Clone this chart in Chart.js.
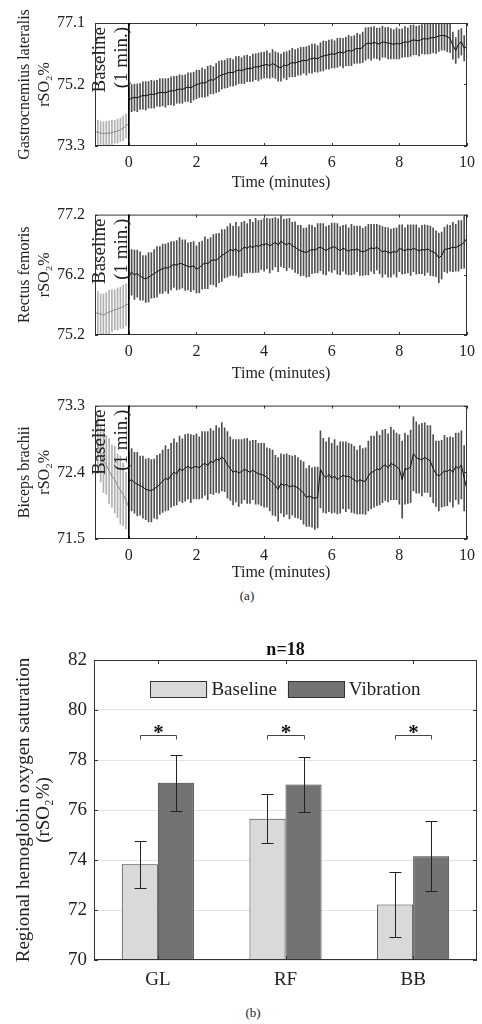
<!DOCTYPE html>
<html>
<head>
<meta charset="utf-8">
<script src="https://cdn.jsdelivr.net/npm/chart.js@4.4.1/dist/chart.umd.min.js"></script>
<style>
  body { margin: 0; background: #fff; width: 482px; height: 1024px; position: relative; overflow: hidden; font-family: "Liberation Serif", serif; }
  canvas { position: absolute; left: 0; }
  .cap { position: absolute; font-size: 13px; line-height: 16px; color: #222; transform: translateX(-50%); }
</style>
</head>
<body>
<canvas id="glChart"></canvas>
<canvas id="rfChart"></canvas>
<canvas id="bbChart"></canvas>
<canvas id="barChart"></canvas>
<div class="cap" style="left:247px; top:588px;">(a)</div>
<div class="cap" style="left:253px; top:1005px;">(b)</div>
<script>
// ===== Time series data (one sample every 5 s) =====
const stepMin = 5 / 60;
const timeTicks = [0, 2, 4, 6, 8, 10];

// Gastrocnemius lateralis
const glTicks = [73.3, 75.2, 77.1];
const glBaseMean = [73.75, 73.72, 73.70, 73.68, 73.70, 73.69, 73.72, 73.74, 73.76, 73.80, 73.85, 73.92, 74.00];
const glBaseErr = [0.36, 0.38, 0.35, 0.37, 0.36, 0.38, 0.37, 0.35, 0.37, 0.36, 0.38, 0.37, 0.36];
const glMean = [
  74.72, 74.78, 74.80, 74.79, 74.83, 74.86, 74.85, 74.88, 74.90, 74.89, 74.93, 74.95,
  74.96, 74.94, 74.98, 75.01, 75.00, 75.04, 75.06, 75.05, 75.09, 75.12, 75.10, 75.15,
  75.20, 75.22, 75.26, 75.24, 75.30, 75.35, 75.33, 75.40, 75.45, 75.50, 75.52, 75.55,
  75.58, 75.56, 75.62, 75.65, 75.63, 75.66, 75.70, 75.68, 75.72, 75.75, 75.74, 75.78,
  75.80, 75.82, 75.78, 75.85, 75.80, 75.74, 75.72, 75.80, 75.78, 75.84, 75.88, 75.86,
  75.90, 75.92, 75.95, 75.93, 75.98, 76.00, 76.02, 75.99, 76.05, 76.08, 76.10, 76.12,
  76.15, 76.13, 76.18, 76.20, 76.17, 76.22, 76.25, 76.23, 76.28, 76.32, 76.30, 76.35,
  76.45, 76.48, 76.46, 76.50, 76.47, 76.45, 76.52, 76.50, 76.48, 76.46, 76.44, 76.47,
  76.45, 76.48, 76.52, 76.50, 76.55, 76.58, 76.56, 76.55, 76.60, 76.62, 76.60, 76.64,
  76.65, 76.66, 76.70, 76.72, 76.71, 76.68, 76.62, 76.40, 76.25, 76.45, 76.52, 76.32,
  76.38
];
const glErr = [
  0.40, 0.42, 0.41, 0.43, 0.40, 0.42, 0.44, 0.41, 0.43, 0.42, 0.40, 0.43,
  0.42, 0.44, 0.41, 0.43, 0.45, 0.42, 0.44, 0.43, 0.41, 0.44, 0.46, 0.43,
  0.44, 0.42, 0.45, 0.43, 0.46, 0.44, 0.42, 0.45, 0.47, 0.44, 0.43, 0.45,
  0.43, 0.41, 0.44, 0.42, 0.40, 0.43, 0.41, 0.39, 0.42, 0.40, 0.43, 0.41,
  0.40, 0.42, 0.39, 0.43, 0.41, 0.44, 0.42, 0.40, 0.43, 0.41, 0.44, 0.42,
  0.41, 0.43, 0.40, 0.44, 0.42, 0.45, 0.43, 0.41, 0.44, 0.46, 0.43, 0.45,
  0.44, 0.42, 0.45, 0.43, 0.46, 0.44, 0.47, 0.45, 0.43, 0.46, 0.44, 0.47,
  0.50, 0.48, 0.51, 0.49, 0.47, 0.50, 0.48, 0.46, 0.49, 0.47, 0.45, 0.48,
  0.46, 0.44, 0.47, 0.45, 0.48, 0.46, 0.44, 0.47, 0.45, 0.48, 0.46, 0.49,
  0.47, 0.50, 0.48, 0.46, 0.45, 0.47, 0.44, 0.42, 0.40, 0.43, 0.41, 0.39,
  0.40
];

// Rectus femoris
const rfTicks = [75.2, 76.2, 77.2];
const rfBaseMean = [75.57, 75.56, 75.55, 75.53, 75.56, 75.58, 75.60, 75.62, 75.63, 75.65, 75.67, 75.70, 75.72];
const rfBaseErr = [0.34, 0.36, 0.33, 0.35, 0.34, 0.36, 0.35, 0.33, 0.35, 0.34, 0.36, 0.35, 0.34];
const rfMean = [
  76.21, 76.24, 76.20, 76.22, 76.18, 76.15, 76.13, 76.16, 76.19, 76.22, 76.25, 76.28,
  76.30, 76.32, 76.31, 76.35, 76.37, 76.36, 76.39, 76.38, 76.36, 76.34, 76.33, 76.35,
  76.29, 76.32, 76.36, 76.40, 76.38, 76.43, 76.45, 76.44, 76.48, 76.52, 76.55, 76.58,
  76.62, 76.60, 76.63, 76.58, 76.62, 76.66, 76.64, 76.68, 76.65, 76.69, 76.67, 76.70,
  76.70, 76.72, 76.68, 76.71, 76.74, 76.69, 76.76, 76.72, 76.70, 76.73, 76.68, 76.66,
  76.62, 76.60, 76.58, 76.57, 76.60, 76.62, 76.61, 76.64, 76.66, 76.63, 76.60, 76.64,
  76.65, 76.67, 76.63, 76.60, 76.64, 76.62, 76.59, 76.62, 76.61, 76.63, 76.60, 76.58,
  76.60, 76.62, 76.65, 76.63, 76.66, 76.62, 76.58, 76.60, 76.57, 76.56, 76.59, 76.57,
  76.64, 76.62, 76.60, 76.63, 76.61, 76.64, 76.62, 76.60, 76.62, 76.61, 76.63, 76.60,
  76.58, 76.55, 76.48, 76.52, 76.62, 76.63, 76.64, 76.66, 76.65, 76.68, 76.70, 76.74,
  76.81
];
const rfErr = [
  0.40, 0.38, 0.41, 0.39, 0.40, 0.37, 0.39, 0.41, 0.38, 0.40, 0.42, 0.39,
  0.41, 0.39, 0.42, 0.40, 0.38, 0.41, 0.43, 0.40, 0.42, 0.39, 0.41, 0.40,
  0.39, 0.42, 0.40, 0.43, 0.41, 0.39, 0.42, 0.44, 0.41, 0.43, 0.40, 0.42,
  0.43, 0.41, 0.44, 0.42, 0.45, 0.43, 0.41, 0.44, 0.42, 0.45, 0.43, 0.41,
  0.44, 0.42, 0.45, 0.43, 0.41, 0.44, 0.42, 0.40, 0.43, 0.41, 0.39, 0.42,
  0.40, 0.42, 0.39, 0.41, 0.43, 0.40, 0.38, 0.41, 0.39, 0.42, 0.40, 0.38,
  0.41, 0.39, 0.42, 0.40, 0.38, 0.41, 0.39, 0.42, 0.40, 0.38, 0.41, 0.39,
  0.40, 0.42, 0.39, 0.41, 0.38, 0.40, 0.42, 0.39, 0.41, 0.40, 0.38, 0.41,
  0.39, 0.41, 0.38, 0.40, 0.42, 0.39, 0.41, 0.38, 0.40, 0.42, 0.39, 0.41,
  0.40, 0.38, 0.41, 0.39, 0.37, 0.40, 0.38, 0.41, 0.39, 0.42, 0.40, 0.43,
  0.41
];

// Biceps brachii
const bbTicks = [71.5, 72.4, 73.3];
const bbBaseMean = [72.88, 72.78, 72.65, 72.55, 72.50, 72.42, 72.35, 72.30, 72.22, 72.16, 72.10, 72.02, 71.93];
const bbBaseErr = [0.34, 0.40, 0.38, 0.42, 0.40, 0.44, 0.42, 0.45, 0.43, 0.46, 0.42, 0.38, 0.34];
const bbMean = [
  72.28, 72.30, 72.26, 72.24, 72.22, 72.20, 72.17, 72.16, 72.15, 72.18, 72.20, 72.24,
  72.28, 72.32, 72.30, 72.36, 72.40, 72.38, 72.45, 72.42, 72.46, 72.48, 72.45, 72.47,
  72.48, 72.46, 72.50, 72.52, 72.49, 72.55, 72.53, 72.58, 72.56, 72.61, 72.57, 72.50,
  72.45, 72.40, 72.42, 72.39, 72.41, 72.44, 72.42, 72.40, 72.43, 72.40, 72.38, 72.37,
  72.36, 72.33, 72.30, 72.26, 72.22, 72.17, 72.25, 72.22, 72.24, 72.20, 72.22, 72.21,
  72.19, 72.16, 72.12, 72.06, 72.08, 72.06, 72.05, 72.06, 72.44, 72.36, 72.33, 72.37,
  72.32, 72.35, 72.30, 72.33, 72.36, 72.34, 72.35, 72.32, 72.30, 72.27, 72.30, 72.28,
  72.28, 72.35, 72.40, 72.41, 72.45, 72.43, 72.48, 72.50, 72.46, 72.52, 72.50, 72.48,
  72.44, 72.30, 72.45, 72.44, 72.48, 72.65, 72.60, 72.58, 72.57, 72.60, 72.58, 72.55,
  72.45, 72.38, 72.35, 72.38, 72.42, 72.41, 72.44, 72.40, 72.48, 72.45, 72.50, 72.32,
  72.17
];
const bbErr = [
  0.40, 0.42, 0.41, 0.43, 0.40, 0.42, 0.41, 0.43, 0.42, 0.40, 0.43, 0.41,
  0.42, 0.44, 0.41, 0.43, 0.45, 0.42, 0.44, 0.43, 0.45, 0.44, 0.46, 0.43,
  0.44, 0.42, 0.45, 0.43, 0.46, 0.44, 0.43, 0.45, 0.44, 0.46, 0.43, 0.45,
  0.43, 0.44, 0.42, 0.45, 0.43, 0.41, 0.44, 0.42, 0.40, 0.43, 0.41, 0.42,
  0.43, 0.40, 0.42, 0.44, 0.41, 0.43, 0.40, 0.42, 0.41, 0.43, 0.40, 0.42,
  0.41, 0.40, 0.42, 0.39, 0.41, 0.40, 0.42, 0.41, 0.52, 0.50, 0.48, 0.50,
  0.47, 0.49, 0.46, 0.48, 0.45, 0.47, 0.44, 0.46, 0.45, 0.43, 0.46, 0.44,
  0.45, 0.47, 0.49, 0.48, 0.50, 0.47, 0.49, 0.48, 0.46, 0.49, 0.47, 0.45,
  0.47, 0.52, 0.48, 0.46, 0.49, 0.50, 0.48, 0.46, 0.49, 0.47, 0.45, 0.48,
  0.46, 0.44, 0.47, 0.45, 0.48, 0.46, 0.44, 0.47, 0.45, 0.48, 0.46, 0.44,
  0.44
];

// ===== Bar chart data =====
const barCategories = ["GL", "RF", "BB"];
const baselineMeans = [73.83, 75.65, 72.22];
const baselineErr = [0.93, 0.98, 1.28];
const vibrationMeans = [77.09, 77.02, 74.15];
const vibrationErr = [1.13, 1.10, 1.40];
const sigLevel = 79.0;

Chart.defaults.font.family = '"Liberation Serif", serif';
Chart.defaults.color = "#222";

function toPoints(values, start) {
  return values.map((v, i) => ({ x: start + i * stepMin, y: v }));
}
function toBars(values, errs, start) {
  return values.map((v, i) => ({ x: start + i * stepMin, y: [v - errs[i], v + errs[i]] }));
}

// box, inward ticks, start marker and "Baseline" text
const panelDeco = {
  id: "panelDeco",
  afterDatasetsDraw(chart) {
    const { ctx, chartArea: a, scales: { x, y } } = chart;
    ctx.save();
    ctx.strokeStyle = "#333";
    ctx.lineWidth = 1;
    ctx.strokeRect(a.left + 0.5, a.top + 0.5, a.width - 1, a.height - 1);
    ctx.beginPath();
    x.ticks.forEach(t => {
      const px = Math.round(x.getPixelForValue(t.value)) + 0.5;
      ctx.moveTo(px, a.bottom); ctx.lineTo(px, a.bottom - 3);
      ctx.moveTo(px, a.top); ctx.lineTo(px, a.top + 3);
    });
    y.ticks.forEach(t => {
      const py = Math.round(y.getPixelForValue(t.value)) + 0.5;
      ctx.moveTo(a.left, py); ctx.lineTo(a.left + 3, py);
      ctx.moveTo(a.right, py); ctx.lineTo(a.right - 3, py);
    });
    ctx.stroke();

    const x0 = x.getPixelForValue(0);
    ctx.strokeStyle = "#000";
    ctx.lineWidth = 1.6;
    ctx.beginPath();
    ctx.moveTo(x0, a.top); ctx.lineTo(x0, a.bottom);
    ctx.stroke();

    ctx.translate(x.getPixelForValue(-0.5), a.top + 4);
    ctx.rotate(-Math.PI / 2);
    ctx.font = '19px "Liberation Serif"';
    ctx.fillStyle = "#222";
    ctx.textAlign = "right";
    ctx.textBaseline = "middle";
    ctx.fillText("Baseline", 0, -12);
    ctx.fillText("(1 min.)", 0, 10);
    ctx.restore();
  }
};

function makePanel(id, cfg) {
  const canvas = document.getElementById(id);
  canvas.width = 482;
  canvas.height = cfg.height;
  canvas.style.top = cfg.top + "px";
  return new Chart(canvas, {
    type: "bar",
    data: {
      datasets: [
        { type: "line", data: toPoints(cfg.baseMean, -1), borderColor: "#8a8a8a", borderWidth: 1, pointRadius: 0, order: 0 },
        { type: "line", data: toPoints(cfg.mean, 0), borderColor: "#111", borderWidth: 1, pointRadius: 0, order: 0 },
        { type: "bar", data: toBars(cfg.baseMean, cfg.baseErr, -1), backgroundColor: "#b0b0b0", barThickness: 1, grouped: false, order: 1 },
        { type: "bar", data: toBars(cfg.mean, cfg.err, 0), backgroundColor: "#505050", barThickness: 1, grouped: false, order: 1 }
      ]
    },
    options: {
      responsive: false,
      animation: false,
      layout: { padding: { top: cfg.padTop, right: 10, left: 0, bottom: 0 } },
      plugins: { legend: { display: false }, tooltip: { enabled: false } },
      scales: {
        x: {
          type: "linear", min: -1, max: 10, offset: false,
          grid: { display: false, drawTicks: false }, border: { display: false },
          afterBuildTicks: s => { s.ticks = timeTicks.map(v => ({ value: v })); },
          afterFit: s => { s.height = cfg.xHeight; },
          ticks: { font: { size: 16 }, padding: 7, maxRotation: 0, callback: v => String(v) },
          title: { display: true, text: "Time (minutes)", font: { size: 16, lineHeight: 1.25 }, padding: { top: 0, bottom: 2 } }
        },
        y: {
          min: cfg.ticks[0], max: cfg.ticks[cfg.ticks.length - 1], beginAtZero: false,
          grid: { display: false, drawTicks: false }, border: { display: false },
          afterBuildTicks: s => { s.ticks = cfg.ticks.map(v => ({ value: v })); },
          afterFit: s => { s.width = 95; },
          ticks: { font: { size: 16 }, padding: 10, callback: v => v.toFixed(1) },
          title: { display: true, text: [cfg.label, "rSO₂%"], font: { size: 16, lineHeight: 1.25 }, padding: { top: 15, bottom: 0 } }
        }
      }
    },
    plugins: [panelDeco]
  });
}

makePanel("glChart", { top: 0, height: 195, padTop: 23, xHeight: 49, label: "Gastrocnemius lateralis",
  ticks: glTicks, baseMean: glBaseMean, baseErr: glBaseErr, mean: glMean, err: glErr });
makePanel("rfChart", { top: 195, height: 191, padTop: 18, xHeight: 51, label: "Rectus femoris",
  ticks: rfTicks, baseMean: rfBaseMean, baseErr: rfBaseErr, mean: rfMean, err: rfErr });
makePanel("bbChart", { top: 386, height: 199, padTop: 17, xHeight: 46, label: "Biceps brachii",
  ticks: bbTicks, baseMean: bbBaseMean, baseErr: bbBaseErr, mean: bbMean, err: bbErr });

// ===== Bar chart =====
const barDeco = {
  id: "barDeco",
  afterDatasetsDraw(chart) {
    const { ctx, chartArea: a, scales: { x, y } } = chart;
    const errs = [baselineErr, vibrationErr];
    ctx.save();
    ctx.strokeStyle = "#222";
    ctx.lineWidth = 1;
    chart.data.datasets.forEach((ds, d) => {
      chart.getDatasetMeta(d).data.forEach((bar, i) => {
        const hi = Math.round(y.getPixelForValue(ds.data[i] + errs[d][i])) + 0.5;
        const lo = Math.round(y.getPixelForValue(ds.data[i] - errs[d][i])) + 0.5;
        const cx = Math.round(bar.x) + 0.5;
        ctx.beginPath();
        ctx.moveTo(cx, hi); ctx.lineTo(cx, lo);
        ctx.moveTo(cx - 6, hi); ctx.lineTo(cx + 6, hi);
        ctx.moveTo(cx - 6, lo); ctx.lineTo(cx + 6, lo);
        ctx.stroke();
      });
    });

    // significance brackets
    const yb = Math.round(y.getPixelForValue(sigLevel)) + 0.5;
    ctx.strokeStyle = "#444";
    ctx.fillStyle = "#111";
    ctx.font = 'bold 21px "Liberation Serif"';
    ctx.textAlign = "center";
    ctx.textBaseline = "alphabetic";
    barCategories.forEach((c, i) => {
      const x1 = Math.round(chart.getDatasetMeta(0).data[i].x) + 0.5;
      const x2 = Math.round(chart.getDatasetMeta(1).data[i].x) + 0.5;
      ctx.beginPath();
      ctx.moveTo(x1, yb + 4); ctx.lineTo(x1, yb); ctx.lineTo(x2, yb); ctx.lineTo(x2, yb + 4);
      ctx.stroke();
      ctx.fillText("*", (x1 + x2) / 2, yb + 3);
    });

    // box and inward ticks
    ctx.strokeStyle = "#333";
    ctx.strokeRect(a.left + 0.5, a.top + 0.5, a.width - 1, a.height - 1);
    ctx.beginPath();
    barCategories.forEach((c, i) => {
      const px = Math.round(x.getPixelForValue(i)) + 0.5;
      ctx.moveTo(px, a.bottom); ctx.lineTo(px, a.bottom - 4);
      ctx.moveTo(px, a.top); ctx.lineTo(px, a.top + 4);
    });
    y.ticks.forEach(t => {
      const py = Math.round(y.getPixelForValue(t.value)) + 0.5;
      ctx.moveTo(a.left, py); ctx.lineTo(a.left + 4, py);
      ctx.moveTo(a.right, py); ctx.lineTo(a.right - 4, py);
    });
    ctx.stroke();

    // title
    ctx.font = 'bold 18px "Liberation Serif"';
    ctx.fillStyle = "#111";
    ctx.textBaseline = "middle";
    ctx.fillText("n=18", (a.left + a.right) / 2, a.top - 10);

    // legend inside the axes
    ctx.font = '19px "Liberation Serif"';
    ctx.textAlign = "left";
    const boxW = 57, boxH = 17, gap = 4, sep = 11;
    const labels = chart.data.datasets.map(ds => ds.label);
    const widths = labels.map(l => ctx.measureText(l).width);
    const total = 2 * (boxW + gap) + widths[0] + widths[1] + sep;
    let lx = (a.left + a.right) / 2 - total / 2;
    const ly = a.top + 21;
    chart.data.datasets.forEach((ds, d) => {
      ctx.fillStyle = ds.backgroundColor;
      ctx.fillRect(lx, ly, boxW, boxH);
      ctx.strokeStyle = "#333";
      ctx.strokeRect(Math.round(lx) + 0.5, ly + 0.5, boxW - 1, boxH - 1);
      ctx.fillStyle = "#222";
      ctx.fillText(labels[d], lx + boxW + gap, ly + boxH / 2 + 1);
      lx += boxW + gap + widths[d] + sep;
    });
    ctx.restore();
  }
};

const barCanvas = document.getElementById("barChart");
barCanvas.width = 482;
barCanvas.height = 375;
barCanvas.style.top = "625px";

new Chart(barCanvas, {
  type: "bar",
  data: {
    labels: barCategories,
    datasets: [
      { label: "Baseline", data: baselineMeans, backgroundColor: "#d9d9d9", borderColor: "#3a3a3a", borderWidth: 1, borderSkipped: false, categoryPercentage: 0.565, barPercentage: 1 },
      { label: "Vibration", data: vibrationMeans, backgroundColor: "#737373", borderColor: "#3a3a3a", borderWidth: 1, borderSkipped: false, categoryPercentage: 0.565, barPercentage: 1 }
    ]
  },
  options: {
    responsive: false,
    animation: false,
    layout: { padding: { top: 35, right: 5, left: 0, bottom: 0 } },
    plugins: { legend: { display: false }, tooltip: { enabled: false } },
    scales: {
      x: {
        grid: { display: false, drawTicks: false }, border: { display: false },
        afterFit: s => { s.height = 40; },
        ticks: { font: { size: 19 }, padding: 9 }
      },
      y: {
        min: 70, max: 82, beginAtZero: false,
        grid: { color: "#e3e3e3", drawTicks: false }, border: { display: false },
        afterFit: s => { s.width = 94; },
        ticks: { stepSize: 2, font: { size: 19 }, padding: 7 },
        title: { display: true, text: ["Regional hemoglobin oxygen saturation", "(rSO₂%)"], font: { size: 19, lineHeight: 1.05 }, padding: { top: 14, bottom: 0 } }
      }
    }
  },
  plugins: [barDeco]
});
</script>
</body>
</html>
